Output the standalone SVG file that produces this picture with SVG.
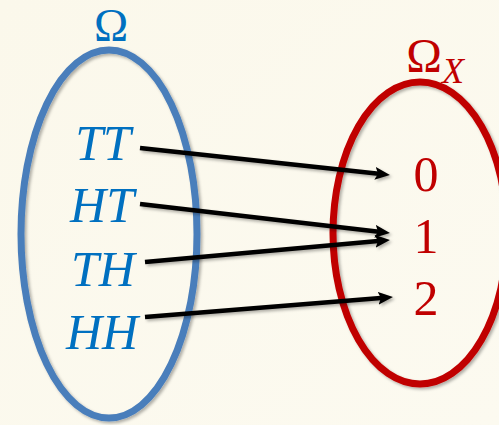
<svg xmlns="http://www.w3.org/2000/svg" width="499" height="425" viewBox="0 0 499 425">
  <style>
    .ell { fill: none; stroke-width: 7; filter: url(#sh); }
    .blue { fill: #0070C0; }
    .red { fill: #C00000; }
    .lbl { font-family: "Liberation Serif", "DejaVu Serif", serif; text-anchor: middle; }
    .it { font-style: italic; font-size: 50px; }
    .num { font-size: 50px; }
    .conn line { stroke: #000; stroke-width: 4.5; marker-end: url(#ah); }
  </style>
  <defs>
    <filter id="sh" x="-20%" y="-20%" width="140%" height="140%">
      <feDropShadow dx="2" dy="2" stdDeviation="1.5" flood-color="#000" flood-opacity="0.3"/>
    </filter>
    <linearGradient id="bg" x1="0" y1="0" x2="1" y2="1">
      <stop offset="0" stop-color="#FBF8EB"/>
      <stop offset="1" stop-color="#FCFAF0"/>
    </linearGradient>
    <marker id="ah" markerUnits="userSpaceOnUse" markerWidth="15" markerHeight="13" refX="6" refY="6.5" orient="auto" viewBox="0 0 15 13">
      <path d="M0,0 L15,6.5 L0,13 L3,6.5 z" fill="#000"/>
    </marker>
  </defs>
  <rect width="499" height="425" fill="url(#bg)"/>

  <g id="omega">
    <ellipse class="ell" cx="109" cy="234" rx="88" ry="184" stroke="#4A7EBB"/>
    <text class="lbl blue" x="111" y="41" font-size="46">Ω</text>
    <text class="lbl blue it" x="103" y="160">TT</text>
    <text class="lbl blue it" x="102" y="222">HT</text>
    <text class="lbl blue it" x="103" y="286">TH</text>
    <text class="lbl blue it" x="102" y="349">HH</text>
  </g>

  <g id="omegaX">
    <ellipse class="ell" cx="420" cy="233" rx="87" ry="151" stroke="#C00000"/>
    <text class="lbl red" x="424" y="72" font-size="48">Ω</text>
    <text class="lbl red" x="453" y="83" font-size="36" font-style="italic">X</text>
    <text class="lbl red num" x="426" y="191">0</text>
    <text class="lbl red num" x="426" y="253">1</text>
    <text class="lbl red num" x="426" y="315">2</text>
  </g>

  <g id="connectors" class="conn" filter="url(#sh)">
    <line x1="140" y1="148" x2="381" y2="174"/>
    <line x1="140" y1="204" x2="381" y2="232"/>
    <line x1="145" y1="262" x2="381" y2="240.8"/>
    <line x1="145" y1="317" x2="384" y2="297.7"/>
  </g>
</svg>
